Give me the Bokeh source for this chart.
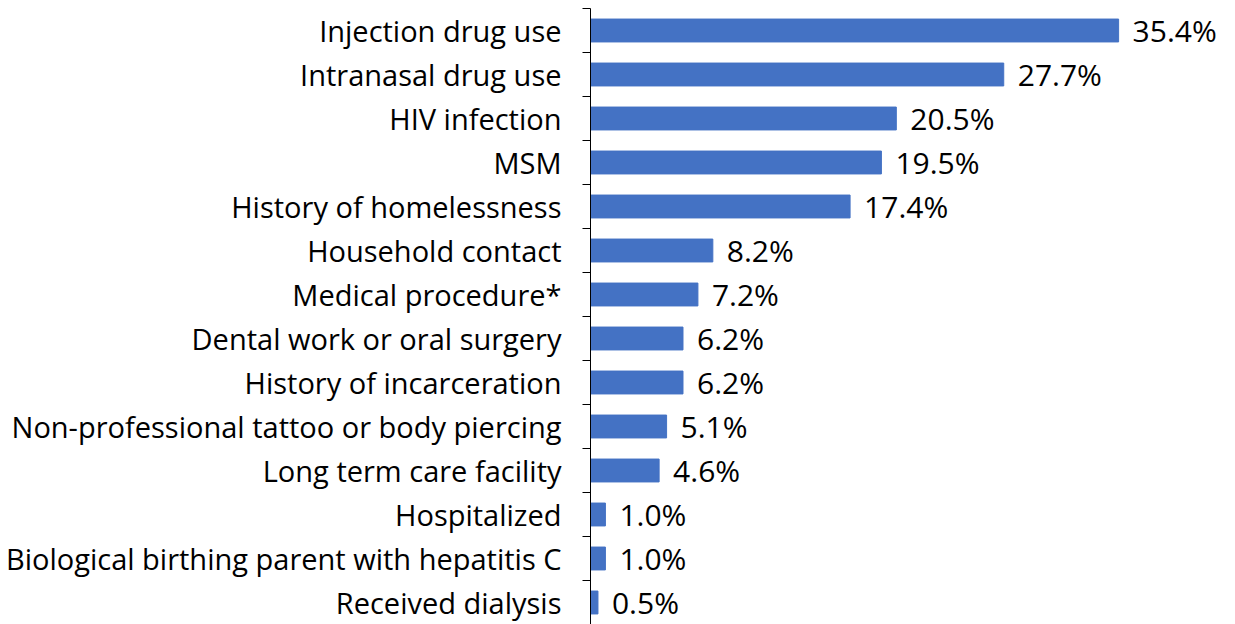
from bokeh.plotting import figure
from bokeh.models import FixedTicker, ColumnDataSource
from bokeh.core.properties import value
from bokeh.embed import file_html
from bokeh.resources import INLINE

categories = [
    "Injection drug use",
    "Intranasal drug use",
    "HIV infection",
    "MSM",
    "History of homelessness",
    "Household contact",
    "Medical procedure*",
    "Dental work or oral surgery",
    "History of incarceration",
    "Non-professional tattoo or body piercing",
    "Long term care facility",
    "Hospitalized",
    "Biological birthing parent with hepatitis C",
    "Received dialysis",
]
values = [35.4, 27.7, 20.5, 19.5, 17.4, 8.2, 7.2, 6.2, 6.2, 5.1, 4.6, 1.0, 1.0, 0.5]

n = len(categories)
ypos = [n - i - 0.5 for i in range(n)]
labels = [f"{v:.1f}%" for v in values]

src = ColumnDataSource(dict(y=ypos, v=values, lab=labels))

FONT = "Open Sans"

p = figure(width=1230, height=624, x_range=(0, 42.9), y_range=(0, n),
           output_backend="svg", toolbar_location=None,
           min_border_left=590, min_border_right=0, min_border_top=8, min_border_bottom=0)

p.hbar(y="y", right="v", left=0, height=0.52, source=src, color="#4472C4")
p.text(x="v", y="y", text="lab", source=src, x_offset=14, text_baseline="middle",
       text_align="left", text_font=value(FONT), text_font_size="30px", text_color="#000000")

p.xaxis.visible = False
p.xgrid.visible = False
p.ygrid.visible = False
p.outline_line_color = None

ax = p.yaxis[0]
ax.ticker = FixedTicker(ticks=ypos, minor_ticks=list(range(0, n + 1)))
ax.major_label_overrides = {y: c for y, c in zip(ypos, categories)}
ax.major_tick_out = 0
ax.major_tick_in = 0
ax.minor_tick_out = 8
ax.minor_tick_in = 0
ax.minor_tick_line_color = "black"
ax.axis_line_color = "black"
ax.major_label_standoff = 21
ax.major_label_text_font = FONT
ax.major_label_text_font_size = "29px"
ax.major_label_text_color = "#000000"

open("out.html", "w").write(file_html(p, INLINE))
